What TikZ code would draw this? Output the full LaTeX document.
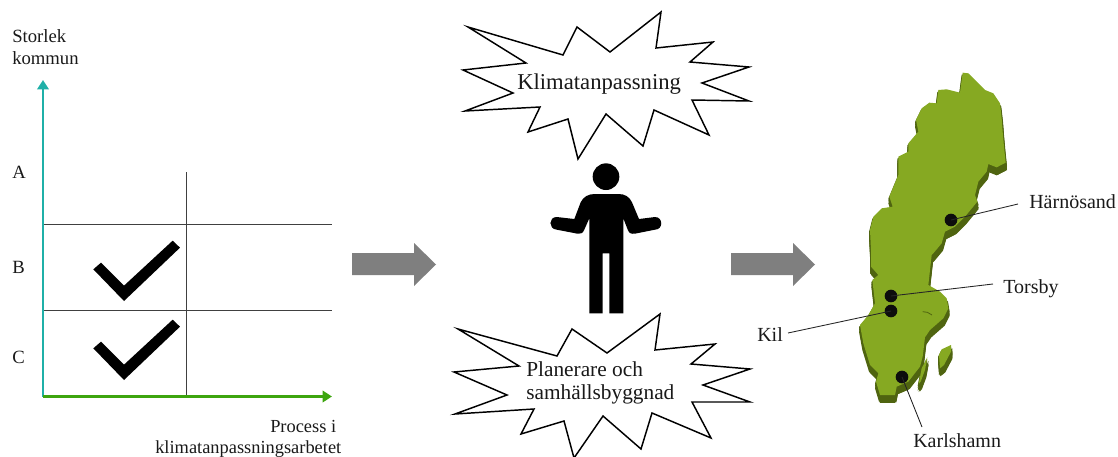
\documentclass[tikz,border=0pt]{standalone}
\usepackage{fontspec}
\setmainfont{Liberation Serif}
\usetikzlibrary{arrows.meta}
\definecolor{teal1}{HTML}{1FB0A8}
\definecolor{green1}{HTML}{3DA50F}
\definecolor{gridc}{HTML}{404040}
\definecolor{arrowg}{HTML}{7F7F7F}
\definecolor{mapg}{HTML}{86A922}
\definecolor{mapd}{HTML}{4F6410}
\tikzset{
  txt/.style={anchor=base west,inner sep=0pt,text=black!90,font=\fontsize{#1}{#1}\selectfont},
  gridline/.style={draw=gridc,line width=0.7pt},
  axisT/.style={draw=teal1,line width=2pt,-{Triangle[length=7pt,width=8.5pt]}},
  axisG/.style={draw=green1,line width=2pt,-{Triangle[length=7pt,width=8.5pt]}},
  starshape/.style={draw=black,fill=white,line width=1.1pt,line join=miter,miter limit=10},
  dot/.style={circle,fill=black!95,minimum size=9.5pt,inner sep=0pt},
  leader/.style={draw=black!85,line width=0.65pt},
  bigarrow/.style={fill=arrowg},
  tick/.style={fill=black},
}
\begin{document}
\begin{tikzpicture}[x=0.75pt,y=-0.75pt]
\clip (0,0) rectangle (1118,457);
% grid
\coordinate (gl) at (43,224.5); \coordinate (gr) at (332,224.5);
\coordinate (hl) at (43,310); \coordinate (hr) at (332,310);
\coordinate (vt) at (186.5,172); \coordinate (vb) at (186.5,396);
\draw[gridline] (gl) -- (gr);
\draw[gridline] (hl) -- (hr);
\draw[gridline] (vt) -- (vb);
% axes
\coordinate (orig) at (43,396.5); \coordinate (ytip) at (43,80); \coordinate (xtip) at (332,396.5);
\draw[axisT] (orig) -- (ytip);
\draw[axisG] (orig) -- (xtip);
% checks
\foreach \dy in {0,79}{
\fill[tick,shift={(0,220+\dy)},scale=1/3] (280,148) -- (303,128) -- (372,197) -- (518,62) -- (540,83) -- (372,243) -- cycle;
}
% left labels
\node[txt=14] (s1) at (12,42) {Storlek};
\node[txt=14] (s2) at (12,64) {kommun};
\node[txt=14] (la) at (12,178) {A};
\node[txt=14] (lb) at (12,273) {B};
\node[txt=14] (lc) at (12,363) {C};
\node[txt=13.8] (p1) at (270,432) {Process i};
\node[txt=13.8] (p2) at (155,453) {klimatanpassningsarbetet};
% grey arrows
\foreach \dx in {0,379}{
\fill[bigarrow,shift={(\dx,0)}] (352,253) -- (414,253) -- (414,243) -- (436,264.5) -- (414,286) -- (414,275) -- (352,275) -- cycle;
}
% star 1
\draw[starshape] (468,27) -- (563,55) -- (577,27) -- (610,52) -- (661,12) -- (656,48) -- (713,42) -- (690,62) -- (749,67) -- (702,83) -- (749,101) -- (692,100) -- (709,135) -- (654,110) -- (643,146) -- (606,114) -- (578,159) -- (568,119) -- (528,132) -- (540,107) -- (465,111) -- (513,93) -- (463,70) -- (526,63) -- cycle;
\node[txt=17] (k) at (517,89) {Klimatanpassning};
% star 2
\draw[starshape] (458,329) -- (557,356) -- (572,329) -- (607,353) -- (660,314) -- (655,350) -- (715,344) -- (691,364) -- (750,369) -- (703,385) -- (750,402) -- (692,402) -- (711,438) -- (652,413) -- (641,449) -- (603,416) -- (574,458) -- (564,421) -- (521,434) -- (534,409) -- (455,414) -- (507,395) -- (454,372) -- (519,366) -- cycle;
\node[txt=16] (pl1) at (526,376) {Planerare och};
\node[txt=16] (pl2) at (526,399) {samhällsbyggnad};
% person
\begin{scope}[shift={(540,155)},scale=1/3]
\fill[black] (198,65) circle (40);
\fill[black] (148,190) -- (132,226) .. controls (128,236) and (120,237) .. (112,236) -- (50,224) .. controls (25,222) and (25,186) .. (50,186) -- (103,192) -- (122,142) .. controls (130,125) and (145,117) .. (165,117) -- (235,117) .. controls (255,117) and (268,125) .. (276,142) -- (297,192) -- (345,186) .. controls (370,186) and (370,224) .. (345,224) -- (285,236) .. controls (275,237) and (268,236) .. (264,226) -- (250,190) -- (250,475) -- (208,475) -- (208,295) -- (188,295) -- (188,475) -- (148,475) -- cycle;
\end{scope}
% map
\begin{scope}[shift={(840,60)},scale=1/3]
\def\swemain{(368,38) -- (385,40) -- (410,65) -- (435,90) -- (460,100) -- (480,130) -- (485,175) -- (488,215) -- (492,260) -- (497,308) -- (470,322) -- (445,312) -- (440,335) -- (415,365) -- (405,405) -- (412,425) -- (375,470) -- (345,500) -- (315,515) -- (305,550) -- (280,580) -- (275,585) -- (270,630) -- (265,675) -- (300,695) -- (320,715) -- (325,745) -- (310,775) -- (270,810) -- (255,832) -- (248,890) -- (240,920) -- (205,965) -- (170,980) -- (165,1005) -- (120,1005) -- (108,965) -- (115,940) -- (90,915) -- (70,850) -- (60,795) -- (85,765) -- (105,730) -- (97,660) -- (115,645) -- (93,620) -- (93,570) -- (90,510) -- (100,470) -- (125,445) -- (158,440) -- (148,410) -- (175,345) -- (175,290) -- (205,275) -- (205,250) -- (235,215) -- (228,180) -- (245,145) -- (268,128) -- (290,130) -- (295,90) -- (320,88) -- (360,98) -- (365,60) -- cycle}
\def\sweoland{(262,892) -- (255,930) -- (242,965) -- (236,972) -- (245,925) -- cycle}
\def\swegot{(333,855) -- (333,875) -- (312,915) -- (300,925) -- (297,885) -- (305,868) -- cycle}
\foreach \ox/\oy in {0/6,0/12,0/18,0/24,4/10,4/18,4/22,-3/6,-3/12,-3/20}{
  \fill[mapd,shift={(\ox,\oy)}] \swemain;
  \fill[mapd,shift={(\ox,\oy)}] \sweoland;
  \fill[mapd,shift={(\ox,\oy)}] \swegot;
}
\fill[mapg] \swemain;
\fill[mapg] \sweoland;
\fill[mapg] \swegot;
\draw[mapd,line width=0.6pt] (248,755) -- (262,757) -- (276,765);
\end{scope}
% cities
\node[dot] (ha) at (951,220) {};
\node[dot] (to) at (891,296) {};
\node[dot] (ki) at (891,311) {};
\node[dot] (ka) at (902,377) {};
\coordinate (hae) at (1018,204);
\coordinate (toe) at (993,284);
\coordinate (kie) at (788,333);
\coordinate (kae) at (922,427);
\draw[leader] (ha.center) -- (hae);
\draw[leader] (to.center) -- (toe);
\draw[leader] (ki.center) -- (kie);
\draw[leader] (ka.center) -- (kae);
\node[txt=15] (hat) at (1029,208) {Härnösand};
\node[txt=15] (tot) at (1003,293) {Torsby};
\node[txt=15] (kit) at (757,341) {Kil};
\node[txt=15] (kat) at (913,447) {Karlshamn};
\end{tikzpicture}
\end{document}
